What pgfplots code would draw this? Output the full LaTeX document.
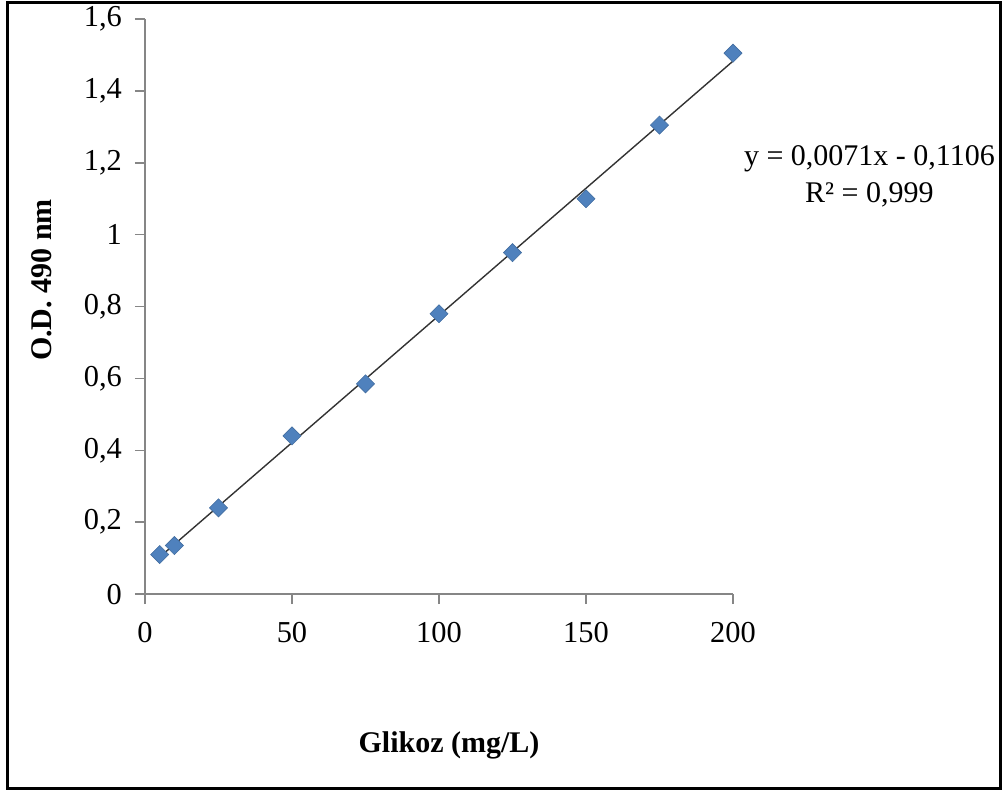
\documentclass[border=0pt]{standalone}
\usepackage{fontspec}
\setmainfont{Liberation Serif}
\usepackage{pgfplots}
\pgfplotsset{compat=1.18}
\definecolor{markblue}{HTML}{4F81BD}
\definecolor{axisgray}{HTML}{868686}
\begin{document}
\begin{tikzpicture}
% page extent and outer frame
\path (-72.5pt,-98.5pt) rectangle (428.5pt,297pt);
\draw[line width=1.5pt] (-68.5pt,-97pt) rectangle (427.5pt,296pt);
\begin{axis}[
  at={(0,0)}, anchor=south west,
  scale only axis, width=294pt, height=287.5pt,
  xmin=0, xmax=200, ymin=0, ymax=1.6,
  axis lines*=left,
  axis line style={axisgray, line width=0.8pt},
  tick style={axisgray, line width=0.8pt},
  tick align=outside, major tick length=5pt,
  xtick={0,50,100,150,200},
  ytick={0,0.2,0.4,0.6,0.8,1,1.2,1.4,1.6},
  /pgf/number format/use comma,
  /pgf/number format/assume math mode=true,
  ticklabel style={font=\fontsize{15.2}{18}\selectfont, text=black},
  xticklabel style={yshift=-5.5pt},
  yticklabel style={xshift=-3pt},
  clip=false,
]
% square marks turned by 45 degrees give even diamonds
\addplot[only marks, mark=square*, mark size=3.2pt,
  mark options={rotate=45, fill=markblue, draw=markblue!85!black, line width=0.3pt}]
  table {
x y
5 0.110
10 0.135
25 0.240
50 0.440
75 0.585
100 0.780
125 0.950
150 1.100
175 1.305
200 1.505
};
% least-squares trend line
\addplot[line width=0.7pt, color=black!80, no marks] coordinates {(5,0.103) (200,1.483)};
\node[font=\fontsize{15}{18.5}\selectfont, align=center, inner sep=0pt] at (rel axis cs:1.232,0.726)
  {y = 0,0071x - 0,1106\\R² = 0,999};
\node[font=\fontsize{15}{18}\selectfont\bfseries, rotate=90] at ([xshift=-51.5pt]rel axis cs:0,0.546) {O.D. 490 nm};
\node[font=\fontsize{15}{18}\selectfont\bfseries] at ([yshift=-75.5pt]rel axis cs:0.517,0) {Glikoz (mg/L)};
\end{axis}
\end{tikzpicture}
\end{document}
